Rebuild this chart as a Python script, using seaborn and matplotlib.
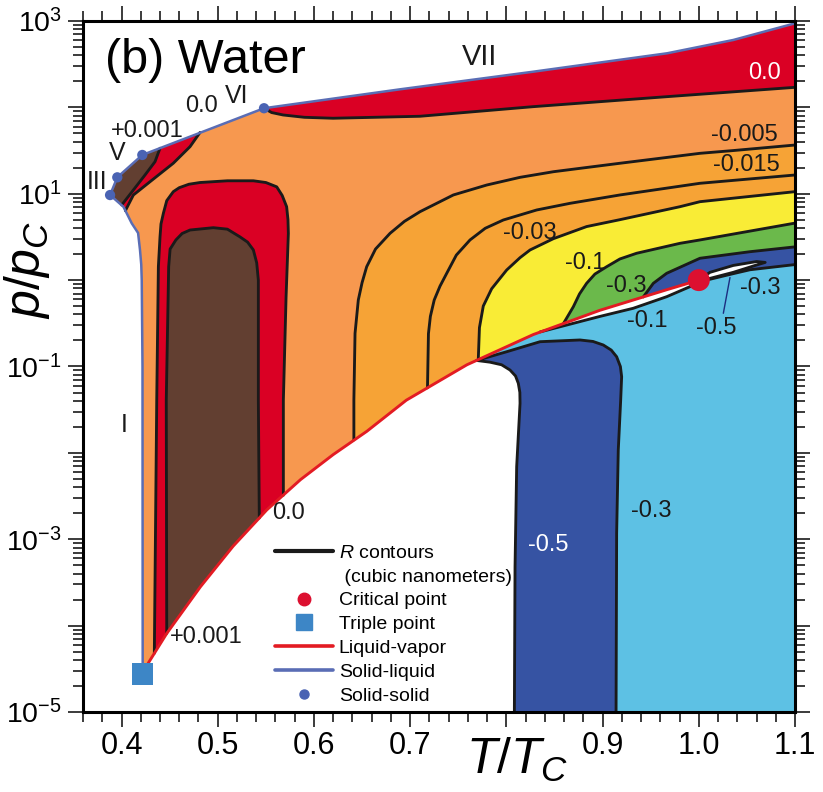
import numpy as np
import matplotlib
matplotlib.use("Agg")
import matplotlib.pyplot as plt
import seaborn as sns
from matplotlib.lines import Line2D
from matplotlib.ticker import FixedLocator, FuncFormatter, MultipleLocator, LogLocator, NullFormatter

# all curves: x = T/Tc, y = log10(p/pc)

# liquid-vapor (triple point -> critical point)
lv_t = [0.422, 0.428, 0.447, 0.482, 0.516, 0.551, 0.586, 0.620, 0.655, 0.696, 0.759, 0.828, 0.897, 0.967, 1.000]
lv_lp = [-4.56, -4.43, -4.09, -3.55, -3.08, -2.66, -2.31, -2.02, -1.75, -1.39, -0.98, -0.63, -0.35, -0.11, 0.00]

# solid-liquid: ice Ih branch, then III, V, VI, VII branches
ih_t = [0.422, 0.4218, 0.421, 0.4205, 0.4192, 0.4172, 0.4106, 0.4054, 0.4019, 0.3881]
ih_lp = [-4.56, -1.0, 0.0, 0.18, 0.349, 0.546, 0.658, 0.774, 0.85, 0.985]
hp_t = [0.3881, 0.3956, 0.4216, 0.5481, 0.6895, 0.8280, 0.967, 1.0358, 1.1]
hp_lp = [0.985, 1.19, 1.449, 1.99, 2.209, 2.413, 2.626, 2.78, 2.973]

# solid-solid-liquid points, triple point, critical point
ss_t = [0.3881, 0.3956, 0.4216, 0.5481]
ss_lp = [0.985, 1.19, 1.449, 1.99]
tp_t, tp_lp = [0.422], [-4.56]
cp_t, cp_lp = [1.0], [0.0]

# R contours
top0_t = [0.5481, 0.5560, 0.5679, 0.5900, 0.6198, 0.7102, 0.8277, 0.967, 1.1]
top0_lp = [1.99, 1.94, 1.912, 1.885, 1.874, 1.897, 2.008, 2.124, 2.232]
ca_t = [0.4400, 0.4348, 0.4244, 0.4123, 0.4002]
ca_lp = [1.527, 1.371, 1.217, 1.043, 0.870]
cb_t = [0.4816, 0.4712, 0.4538, 0.4296, 0.4123, 0.4040]
cb_lp = [1.71, 1.545, 1.353, 1.139, 0.985, 0.804]
ro_t = [0.4341, 0.4366, 0.4383, 0.4400, 0.4410, 0.4435, 0.4470, 0.4538, 0.4600, 0.4700, 0.4816, 0.5100,
        0.5370, 0.5500, 0.5613, 0.5670, 0.5716, 0.5730, 0.5734, 0.5710, 0.5682, 0.5682]
ro_lp = [-4.32, -1.39, 0.155, 0.50, 0.65, 0.774, 0.92, 1.024, 1.07, 1.11, 1.13, 1.15,
         1.15, 1.13, 1.08, 0.98, 0.85, 0.70, 0.54, -0.2, -1.39, -2.49]
bi_t = [0.447, 0.4465, 0.4490, 0.4505, 0.4565, 0.4630, 0.4712, 0.4954, 0.5100, 0.5232, 0.5310, 0.5370,
        0.5405, 0.5422, 0.5422, 0.5432]
bi_lp = [-4.09, -1.39, 0.155, 0.36, 0.465, 0.54, 0.58, 0.607, 0.59, 0.50, 0.44, 0.35,
         0.20, 0.0, -1.39, -2.754]
c005_t = [0.6415, 0.6415, 0.6427, 0.6461, 0.6500, 0.6548, 0.6640, 0.6791, 0.6940, 0.7102, 0.7449, 0.7796,
          0.8142, 0.8489, 0.9181, 0.9666, 1.0012, 1.0358, 1.1]
c005_lp = [-1.85, -1.388, -0.616, -0.23, -0.03, 0.155, 0.36, 0.542, 0.68, 0.792, 0.986, 1.101,
           1.190, 1.255, 1.353, 1.42, 1.468, 1.50, 1.564]
c015_t = [0.7180, 0.7190, 0.7210, 0.7250, 0.7310, 0.7380, 0.7480, 0.7622, 0.7780, 0.7968, 0.8315, 0.8661,
          0.9181, 1.0012, 1.1]
c015_lp = [-1.247, -0.62, -0.42, -0.23, -0.07, 0.079, 0.29, 0.465, 0.60, 0.696, 0.812, 0.889,
           0.986, 1.121, 1.217]
c03_t = [0.7708, 0.7720, 0.7760, 0.7847, 0.8003, 0.8142, 0.8246, 0.8489, 0.8834, 0.9181, 0.9804, 1.0012, 1.1]
c03_lp = [-0.919, -0.55, -0.30, -0.10, 0.117, 0.26, 0.349, 0.48, 0.62, 0.70, 0.85, 0.908, 1.024]
c1_t = [0.8592, 0.8696, 0.8760, 0.8834, 0.8920, 0.9042, 0.9180, 0.9354, 0.9804, 1.0012, 1.1]
c1_lp = [-0.505, -0.308, -0.16, -0.037, 0.07, 0.155, 0.245, 0.311, 0.426, 0.465, 0.66]
c3_t = [0.9423, 0.9527, 0.9666, 1.0012, 1.0532, 1.1]
c3_lp = [-0.195, -0.037, 0.079, 0.253, 0.329, 0.385]
dl_t = [1.000, 1.0116, 1.0358, 1.0532, 1.1]
dl_lp = [0.0, 0.01, 0.075, 0.12, 0.18]
el_t = [1.000, 1.0116, 1.0358, 1.0600, 1.0690, 1.0600, 1.0358, 1.0116, 1.000]
el_lp = [0.0, 0.09, 0.17, 0.215, 0.205, 0.175, 0.09, 0.02, 0.0]
sl_t = [0.835, 0.8973, 0.9319, 0.9666, 0.9908, 1.0]
sl_lp = [-0.60, -0.42, -0.326, -0.192, -0.076, 0.0]
# dark blue pocket below the coexistence curve (top edge, right edge, bottom, left edge)
db_t = [0.769, 0.8003, 0.8350, 0.8765, 0.8900, 0.9007, 0.9090, 0.9146, 0.9185, 0.9198, 0.9188, 0.9163,
        0.9146, 0.9140, 0.8083, 0.8090, 0.8107, 0.8142, 0.8140, 0.8124, 0.8095, 0.8038, 0.7950, 0.7830]
db_lp = [-0.93, -0.829, -0.713, -0.693, -0.71, -0.751, -0.81, -0.887, -1.0, -1.118, -1.388, -1.967,
         -2.93, -5.0, -5.0, -3.32, -2.16, -1.426, -1.30, -1.195, -1.11, -1.041, -0.98, -0.95]
lead_t = [1.0255, 1.0324]
lead_lp = [-0.384, 0.03]

# region labels
lab_txt = ["VII", "0.0", "-0.005", "-0.015", "-0.03", "-0.1", "-0.3", "-0.1", "-0.5", "-0.3",
           "0.0", "VI", "+0.001", "V", "III", "I", "0.0", "+0.001", "-0.5", "-0.3"]
lab_t = [0.7726, 1.0688, 1.047, 1.049, 0.8246, 0.8817, 0.925, 0.946, 1.0185, 1.0636,
         0.4834, 0.5195, 0.427, 0.395, 0.3742, 0.4026, 0.5734, 0.4885, 0.8436, 0.9510]
lab_lp = [2.583, 2.398, 1.68, 1.333, 0.542, 0.195, -0.07, -0.47, -0.558, -0.095,
          2.02, 2.132, 1.73, 1.468, 1.14, -1.677, -2.70, -4.128, -3.067, -2.673]
lab_size = [21, 17, 17, 17, 17, 17, 17, 17, 17, 17, 17, 18, 17, 18, 18, 18, 17, 17, 17, 17]
lab_col = ["k", "w", "k", "k", "k", "k", "k", "k", "k", "k", "k", "k", "k", "k", "k", "k", "k", "k", "w", "k"]

BROWN, RED, SALMON, ORANGE = "#623f31", "#da0024", "#f7984f", "#f6a336"
YELLOW, GREEN, DBLUE, LBLUE = "#f9ec36", "#6bb94b", "#3653a3", "#5dc1e4"
LVRED, MELT, SSBLUE, TPBLUE, CPRED = "#e31b23", "#5a6db5", "#4a63b3", "#3d86c6", "#dc1030"

sns.set_theme(style="ticks", rc={"axes.edgecolor": "black", "text.color": "black",
                                  "xtick.color": "black", "ytick.color": "black",
                                  "axes.labelcolor": "black"})
plt.rcParams["font.family"] = ["Liberation Sans", "DejaVu Sans"]
plt.rcParams["mathtext.fontset"] = "custom"
plt.rcParams["mathtext.rm"] = "Liberation Sans"
plt.rcParams["mathtext.it"] = "Liberation Sans:italic"
plt.rcParams["mathtext.bf"] = "Liberation Sans:bold"

fig = plt.figure(figsize=(8.23, 7.92), dpi=100)
ax = fig.add_axes([0.1009, 0.1010, 0.8651, 0.8725])
ax.set_yscale("log")
ax.set_xlim(0.36, 1.1)
ax.set_ylim(1e-5, 1e3)


def pts(t, lp):
    return list(zip(t, lp))


def lv_part(t0, t1):
    return [(t, l) for t, l in zip(lv_t, lv_lp) if t0 < t < t1]


def fill(poly, color):
    t, lp = zip(*poly)
    ax.fill(t, 10 ** np.array(lp), color=color, lw=0, zorder=1)


def curve(t, lp, color="k", lw=2.05, z=3):
    sns.lineplot(x=np.asarray(t), y=10 ** np.asarray(lp), sort=False, estimator=None,
                 color=color, lw=lw, ax=ax, zorder=z, legend=False)


ih, hp, db = pts(ih_t, ih_lp), pts(hp_t, hp_lp), pts(db_t, db_lp)
nb = db_t.index(0.8083)
db_left = db[nb:]

# filled regions, painted from the back to the front
fill(ih + hp[1:] + [(1.1, -5.0)] + db_left + [db[0]] + lv_part(0.0, 0.769)[::-1], SALMON)
fill(hp[3:] + pts(top0_t, top0_lp)[::-1], RED)
fill(hp[0:3] + pts(cb_t, cb_lp) + ih[-2:], RED)
fill(hp[0:3] + pts(ca_t, ca_lp), BROWN)
fill(pts(ro_t, ro_lp) + lv_part(ro_t[0], ro_t[-1])[::-1], RED)
fill(pts(bi_t, bi_lp) + lv_part(bi_t[0], bi_t[-1])[::-1], BROWN)
fill(pts(c005_t, c005_lp) + [(1.1, 0.0)] + lv_part(c005_t[0], 1.01)[::-1], ORANGE)
fill(pts(c03_t, c03_lp) + [(1.1, 0.0)] + lv_part(c03_t[0], 1.01)[::-1], YELLOW)
fill(pts(c1_t, c1_lp) + [(1.1, 0.0)] + lv_part(c1_t[0], 1.01)[::-1], GREEN)
fill(pts(c3_t, c3_lp) + pts(dl_t, dl_lp)[::-1] + lv_part(c3_t[0], 0.999)[::-1], DBLUE)
fill([db[0]] + lv_part(0.769, 0.999) + pts(dl_t, dl_lp) + [(1.1, -5.0)] + db_left, LBLUE)
fill(db, DBLUE)
fill(pts(sl_t, sl_lp)[::-1] + lv_part(sl_t[0], 0.999), "white")
fill(pts(el_t, el_lp), "white")

# R contour lines
for t, lp in [(top0_t, top0_lp), (ca_t, ca_lp), (cb_t, cb_lp), (ro_t, ro_lp), (bi_t, bi_lp),
              (c005_t, c005_lp), (c015_t, c015_lp), (c03_t, c03_lp), (c1_t, c1_lp),
              (c3_t, c3_lp), (dl_t, dl_lp), (el_t, el_lp), (sl_t, sl_lp)]:
    curve(t, lp)
curve(db_t[nb:] + db_t[:nb], db_lp[nb:] + db_lp[:nb])
curve(lead_t, lead_lp, color="#1c2d80", lw=1.0)

# phase boundaries and points
curve(lv_t, lv_lp, color=LVRED, lw=2.1, z=4)
curve(ih_t, ih_lp, color=MELT, lw=1.8, z=4)
curve(hp_t, hp_lp, color=MELT, lw=1.8, z=4)
sns.scatterplot(x=ss_t, y=10 ** np.array(ss_lp), s=55, color=SSBLUE, edgecolor="none", ax=ax, zorder=5)
sns.scatterplot(x=tp_t, y=10 ** np.array(tp_lp), s=230, marker="s", color=TPBLUE, edgecolor="none",
                ax=ax, zorder=5)
sns.scatterplot(x=cp_t, y=10 ** np.array(cp_lp), s=250, color=CPRED, edgecolor="none", ax=ax, zorder=5)

for s, t, lp, fs, c in zip(lab_txt, lab_t, lab_lp, lab_size, lab_col):
    ax.text(t, 10 ** lp, s, ha="center", va="center", fontsize=fs, color=c, zorder=6)

ax.text(0.031, 0.925, "(b) Water", transform=ax.transAxes, fontsize=35, ha="left", va="baseline")

# axes, ticks
xt = [0.4, 0.5, 0.6, 0.7, 0.8, 0.9, 1.0, 1.1]
ax.xaxis.set_major_locator(FixedLocator(xt))
ax.xaxis.set_major_formatter(FuncFormatter(lambda v, p: "" if abs(v - 0.8) < 1e-6 else f"{v:.1f}"))
ax.xaxis.set_minor_locator(MultipleLocator(0.02))
ax.yaxis.set_major_locator(LogLocator(base=10, numticks=20))
ax.yaxis.set_major_formatter(FuncFormatter(
    lambda v, p: f"$10^{{{int(round(np.log10(v)))}}}$" if int(round(np.log10(v))) % 2 else ""))
ax.yaxis.set_minor_locator(LogLocator(base=10, subs=np.arange(2, 10), numticks=20))
ax.yaxis.set_minor_formatter(NullFormatter())
ax.tick_params(which="both", direction="out", top=True, right=True, width=1.2, color="k")
ax.tick_params(which="major", length=11)
ax.tick_params(which="minor", length=7)
ax.tick_params(axis="x", labelsize=22, pad=3)
ax.tick_params(axis="y", labelsize=20.5, pad=4)
for sp in ax.spines.values():
    sp.set_linewidth(2.2)
    sp.set_zorder(7)

ax.set_xlabel(r"$T/T_C$", fontsize=36)
ax.xaxis.set_label_coords(0.61, -0.035)
ax.set_ylabel(r"$p/p_C$", fontsize=36)
ax.yaxis.set_label_coords(-0.0435, 0.64)

handles = [
    Line2D([], [], color="k", lw=3, label="$R$ contours"),
    Line2D([], [], color="none", label=" (cubic nanometers)"),
    Line2D([], [], ls="none", marker="o", ms=9, color=CPRED, label="Critical point"),
    Line2D([], [], ls="none", marker="s", ms=12, color=TPBLUE, label="Triple point"),
    Line2D([], [], color=LVRED, lw=2.6, label="Liquid-vapor"),
    Line2D([], [], color=MELT, lw=2.6, label="Solid-liquid"),
    Line2D([], [], ls="none", marker="o", ms=6.5, color=SSBLUE, label="Solid-solid"),
]
ax.legend(handles=handles, loc="upper left", bbox_to_anchor=(0.27, 0.243), frameon=False,
          fontsize=14, handlelength=2.95, handletextpad=0.32, labelspacing=0.32,
          borderpad=0, borderaxespad=0)

fig.savefig("out.png", dpi=100)
